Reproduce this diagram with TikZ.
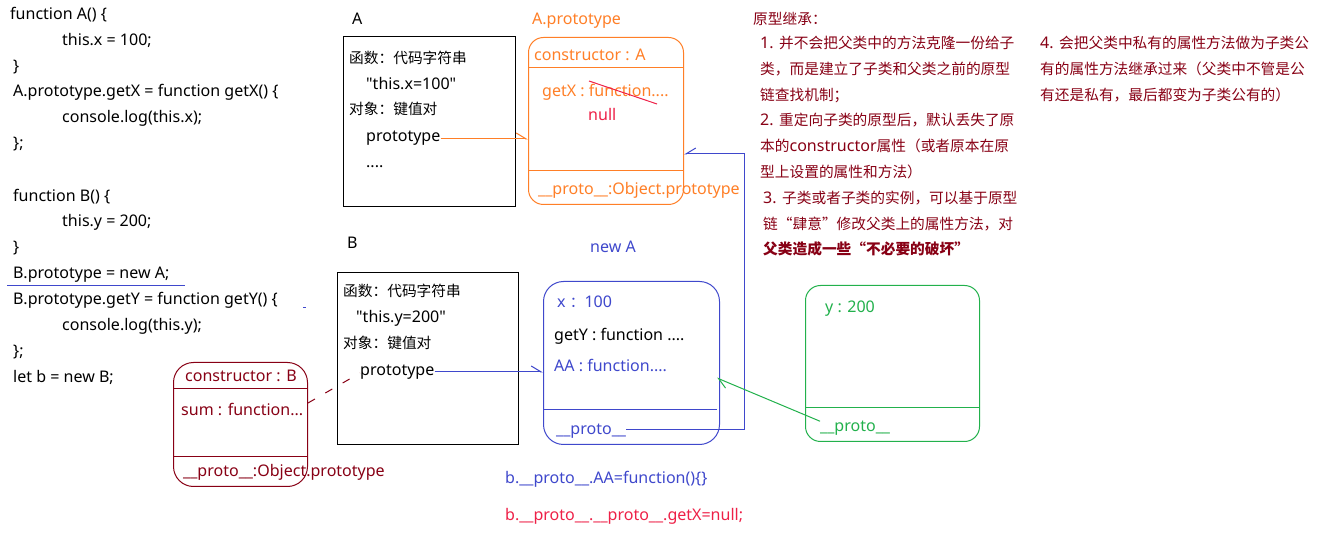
\documentclass[tikz,border=0pt]{standalone}
\usepackage{fontspec}
\setmainfont{Noto Sans}[Ligatures=TeXOff,Scale=1.09]
\newfontfamily\cj{Noto Sans CJK SC}[Ligatures=TeXOff]
\usetikzlibrary{arrows.meta}
\definecolor{cOr}{HTML}{FF7F27}
\definecolor{cBl}{HTML}{3F48CC}
\definecolor{cGr}{HTML}{22B14C}
\definecolor{cMr}{HTML}{880015}
\definecolor{cRd}{HTML}{EE2047}
\newcommand\dfont{\fontsize{14.7}{17}\selectfont}
\begin{document}
\begin{tikzpicture}[x=1pt,y=-1pt,
  t/.style={anchor=base west,inner sep=0pt,font=\dfont},
  box/.style={draw,anchor=north west,inner sep=0pt,line width=1pt},
  harpL/.style={-{Straight Barb[left,length=10pt,width=12pt]}},
  harpR/.style={-{Straight Barb[right,length=10pt,width=12pt]}}]
\useasboundingbox[fill=white] (0,0) rectangle (1318,534);

% code
\node[t] (l1) at (10,20) {function A() \{};
\node[t] (l2) at (62,46) {this.x = 100;};
\node[t] (l3) at (13,72) {\}};
\node[t] (l4) at (13,97) {A.prototype.getX = function getX() \{};
\node[t] (l5) at (62,123) {console.log(this.x);};
\node[t] (l6) at (13,149) {\};};
\node[t] (l7) at (13,202) {function B() \{};
\node[t] (l8) at (62,227) {this.y = 200;};
\node[t] (l9) at (13,253) {\}};
\node[t] (l10) at (13,279) {B.prototype = new A;};
\node[t] (l11) at (13,305) {B.prototype.getY = function getY() \{};
\node[t] (l12) at (62,331) {console.log(this.y);};
\node[t] (l13) at (13,357) {\};};
\node[t] (l14) at (13,383) {let b = new B;};
\draw[cBl,line width=1pt] (7,286) -- (185,286);
\draw[cBl,line width=1pt] (303,307.5) -- (306,307.5);

% box A
\node[t] (labA) at (352,25) {A};
\node[box,line width=1.2pt,minimum width=172,minimum height=170] (Abox) at (343,36) {};
\node[t] (a1) at (349,64) {\cj 函数：代码字符串};
\node[t] (a2) at (366,90) {"this.x=100"};
\node[t] (a3) at (349,115) {\cj 对象：键值对};
\node[t] (a4) at (366,142) {prototype};
\node[t] (a5) at (366,168) {....};

% A.prototype
\node[t,text=cOr] (labAp) at (532,25) {A.prototype};
\node[box,draw=cOr,rounded corners=15pt,minimum width=155,minimum height=167] (Aproto) at (528,37) {};
\draw[cOr,line width=1pt] (528,68) -- (683,68);
\draw[cOr,line width=1pt] (528,171) -- (683,171);
\node[t,text=cOr] (p1) at (534,61) {constructor : A};
\node[t,text=cOr] (p2) at (542,97) {getX : function....};
\draw[cRd,line width=1pt] (589,81) -- (657,104);
\node[t,text=cRd] (p3) at (588,121) {null};
\node[t,text=cOr] (p4) at (538,195) {\_\_proto\_\_:Object.prototype};
\draw[cOr,line width=1pt,harpL] (a4.east |- 0,139) -- (Aproto.west |- 0,139);

% right notes
\node[t,text=cMr] (n0) at (753,25) {\cj 原型继承：};
\node[t,text=cMr] (n1) at (760,49) {1. {\cj 并不会把父类中的方法克隆一份给子}};
\node[t,text=cMr] (n2) at (760,75) {\cj 类，而是建立了子类和父类之前的原型};
\node[t,text=cMr] (n3) at (760,101) {\cj 链查找机制；};
\node[t,text=cMr] (n4) at (760,126) {2. {\cj 重定向子类的原型后，默认丢失了原}};
\node[t,text=cMr] (n5) at (760,152) {{\cj 本的}constructor{\cj 属性（或者原本在原}};
\node[t,text=cMr] (n6) at (760,178) {\cj 型上设置的属性和方法）};
\node[t,text=cMr] (n7) at (763,204) {3. {\cj 子类或者子类的实例，可以基于原型}};
\node[t,text=cMr] (n8) at (763,230) {\cj 链“肆意”修改父类上的属性方法，对};
\node[t,text=cMr,font=\dfont\bfseries] (n9) at (763,255) {\cj 父类造成一些“不必要的破坏”};
\node[t,text=cMr] (m1) at (1040,49) {4. {\cj 会把父类中私有的属性方法做为子类公}};
\node[t,text=cMr] (m2) at (1040,75) {\cj 有的属性方法继承过来（父类中不管是公};
\node[t,text=cMr] (m3) at (1040,101) {\cj 有还是私有，最后都变为子类公有的）};

% box B
\node[t] (labB) at (347,249) {B};
\node[box,minimum width=181,minimum height=172] (Bbox) at (337,272) {};
\node[t] (b1) at (343,297) {\cj 函数：代码字符串};
\node[t] (b2) at (356,323) {"this.y=200"};
\node[t] (b3) at (343,349) {\cj 对象：键值对};
\node[t] (b4) at (360,376) {prototype};

% constructor B
\node[box,draw=cMr,rounded corners=20pt,minimum width=134,minimum height=124] (Cbox) at (173,362) {};
\draw[cMr,line width=1pt] (173,389) -- (307,389);
\draw[cMr,line width=1pt] (173,457) -- (307,457);
\node[t,text=cMr] (c1) at (185,382) {constructor : B};
\node[t,text=cMr] (c2) at (181,416) {sum : function...};
\node[t,text=cMr] (c3) at (183,477) {\_\_proto\_\_:Object.prototype};
\draw[cMr,line width=1pt,dash pattern=on 8pt off 12pt] (Cbox.east |- 0,403) -- (b4.west |- 0,373);

% new A
\node[t,text=cBl] (labN) at (590,253) {new A};
\node[box,draw=cBl,rounded corners=20pt,minimum width=176,minimum height=163] (Nbox) at (543,281) {};
\draw[cBl,line width=1pt] (543,410) -- (717,410);
\node[t,text=cBl] (x1) at (557,308) {x {\cj ：}100};
\node[t] (x2) at (554,341) {getY : function ....};
\node[t,text=cBl] (x3) at (554,372) {AA : function....};
\node[t,text=cBl] (x4) at (556,435) {\_\_proto\_\_};
\draw[cBl,line width=1pt,harpL] (b4.east |- 0,372) -- (Nbox.west |- 0,372);
\coordinate (k1) at (744,430);
\coordinate (k2) at (744,154);
\draw[cBl,line width=1pt,harpR] (x4.east |- k1) -- (k1) -- (k2) -- (Aproto.east |- k2);

% green
\node[box,draw=cGr,rounded corners=15pt,minimum width=174,minimum height=156] (Gbox) at (805,285) {};
\draw[cGr,line width=1pt] (805,408) -- (979,408);
\node[t,text=cGr] (g1) at (825,313) {y : 200};
\node[t,text=cGr] (g2) at (820,432) {\_\_proto\_\_};
\coordinate (gt) at (717,378);
\draw[cGr,line width=1pt,harpL] (g2.north west) -- (gt);

% bottom
\node[t,text=cBl] (q1) at (505,483) {b.\_\_proto\_\_.AA=function()\{\}};
\node[t,text=cRd] (q2) at (505,520) {b.\_\_proto\_\_.\_\_proto\_\_.getX=null;};
\end{tikzpicture}
\end{document}
